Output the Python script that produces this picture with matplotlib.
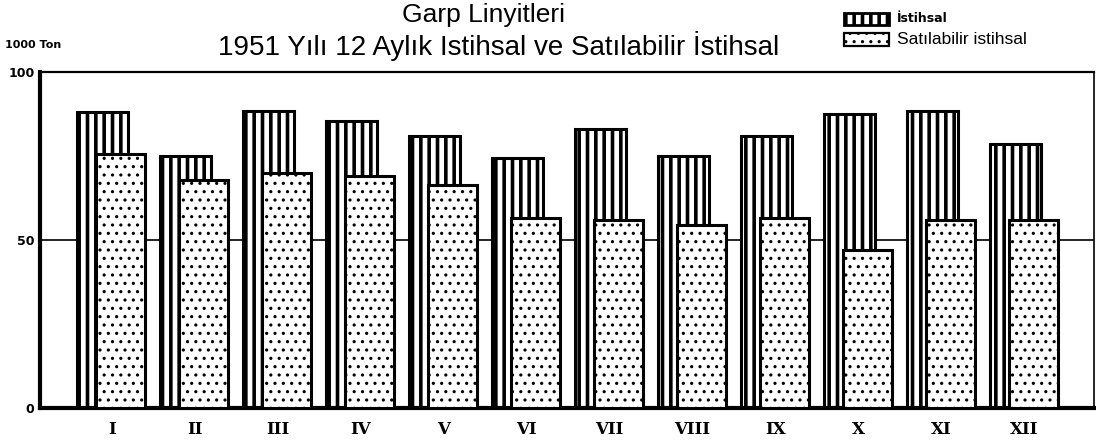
import matplotlib
matplotlib.use('Agg')
import matplotlib.pyplot as plt
from matplotlib.patches import Rectangle
import numpy as np

months = ['I', 'II', 'III', 'IV', 'V', 'VI', 'VII', 'VIII', 'IX', 'X', 'XI', 'XII']
istihsal = [88, 75, 88.5, 85.5, 81, 74.5, 83, 75, 81, 87.5, 88.5, 78.5]
satilabilir = [75.5, 68, 70, 69, 66.5, 56.5, 56, 54.5, 56.5, 47, 56, 56]
yticks = [0, 50, 100]
ytick_labels = ['0', '50', '100']

W, H = 1096, 444
fig = plt.figure(figsize=(W / 100, H / 100), dpi=100)
ax = fig.add_axes([40 / W, 1 - 408 / H, (1094 - 40) / W, (408 - 72) / H])


def set_hlw(patches, lw):
    for p in patches:
        if hasattr(p, 'set_hatch_linewidth'):
            p.set_hatch_linewidth(lw)


x = np.arange(len(months))
plt.rcParams['hatch.linewidth'] = 2.6
b1 = ax.bar(x, istihsal, width=0.62, color='white', edgecolor='black',
            linewidth=2.2, hatch='||', zorder=2)
set_hlw(b1, 2.6)
plt.rcParams['hatch.linewidth'] = 1.1
b2 = ax.bar(x + 0.22, satilabilir, width=0.59, color='white', edgecolor='black',
            linewidth=2.2, hatch='..', zorder=3)
set_hlw(b2, 1.1)

ax.axhline(50, color='black', lw=1.2, zorder=1)
ax.set_xlim(-0.753, 11.946)
ax.set_ylim(0, 100)

ax.set_yticks(yticks)
ax.set_yticklabels(ytick_labels, fontsize=9, fontweight='bold')
ax.set_xticks(x + 0.11)
ax.set_xticklabels(months, fontsize=12, family='DejaVu Serif', fontweight='bold')
ax.tick_params(length=0)
ax.tick_params(axis='x', pad=9)
ax.tick_params(axis='y', pad=4)

ax.spines['left'].set_linewidth(3)
ax.spines['bottom'].set_linewidth(3)
ax.spines['top'].set_linewidth(1.6)
ax.spines['right'].set_linewidth(1.2)

# titles
fig.text(484 / W, 1 - 15 / H, 'Garp Linyitleri', ha='center', va='center',
         fontsize=19, family='Liberation Sans')
fig.text(499 / W, 1 - 46 / H, '1951 Yılı 12 Aylık Istihsal ve Satılabilir İstihsal',
         ha='center', va='center', fontsize=20, family='Liberation Sans')
fig.text(5 / W, 1 - 45 / H, '1000 Ton', ha='left', va='center', fontsize=8,
         fontweight='bold')

# legend
plt.rcParams['hatch.linewidth'] = 2.6
r1 = Rectangle((844 / W, 1 - 25 / H), 45 / W, 12 / H, transform=fig.transFigure,
               facecolor='white', edgecolor='black', linewidth=2, hatch='||')
set_hlw([r1], 2.6)
fig.add_artist(r1)
plt.rcParams['hatch.linewidth'] = 1.1
r2 = Rectangle((844 / W, 1 - 46 / H), 45 / W, 13 / H, transform=fig.transFigure,
               facecolor='white', edgecolor='black', linewidth=1.6, hatch='..')
set_hlw([r2], 1.1)
fig.add_artist(r2)
fig.text(897 / W, 1 - 18 / H, 'İstihsal', ha='left', va='center', fontsize=9,
         fontweight='bold')
fig.text(897 / W, 1 - 40 / H, 'Satılabilir istihsal', ha='left', va='center',
         fontsize=12.5, family='Liberation Sans')

fig.savefig('out.png', dpi=100)
